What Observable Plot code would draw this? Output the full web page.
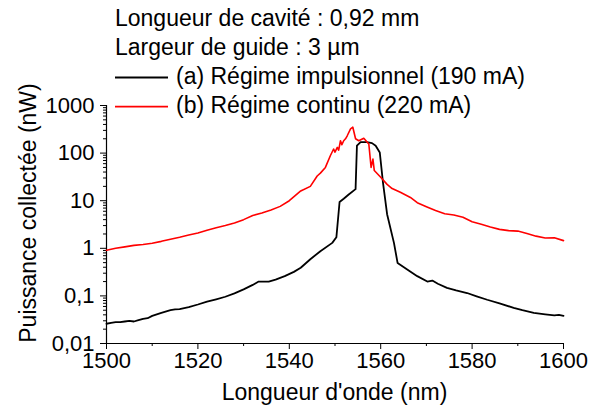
<!DOCTYPE html>
<html><head><meta charset="utf-8">
<script src="https://cdn.jsdelivr.net/npm/d3@7"></script>
<script src="https://cdn.jsdelivr.net/npm/@observablehq/plot@0.6"></script>
<style>body{margin:0;background:#fff} svg{display:block}</style>
</head><body><div id="chart"></div>
<script>
// (a) Régime impulsionnel (190 mA)
const wavelengthA = [1500,1501,1502,1503,1504,1505,1506,1507,1508,1509,1510,1512,1514,1515,1516,1518,1520,1522,1524,1526,1528,1530,1532,1533.3,1535.5,1537,1539,1541,1542.5,1544.6,1546.8,1549.4,1550.3,1551,1551.9,1553,1554.5,1554.8,1555.6,1557,1558.1,1558.9,1559.8,1560.5,1561.4,1562.9,1563.7,1565.8,1568,1570.2,1571.3,1572.5,1574.5,1576.5,1578.9,1581,1583.3,1586,1589.1,1591,1593.5,1596,1598,1599,1600];
const powerA = [0.026,0.027,0.028,0.028,0.029,0.030,0.029,0.031,0.033,0.034,0.038,0.044,0.050,0.052,0.053,0.058,0.066,0.076,0.085,0.096,0.113,0.137,0.17,0.20,0.20,0.22,0.26,0.32,0.39,0.59,0.87,1.3,1.7,9.4,11,13.5,17.5,143,170,170,162,143,103,24,5.2,1.3,0.49,0.36,0.26,0.20,0.21,0.18,0.147,0.13,0.115,0.098,0.083,0.07,0.056,0.05,0.044,0.041,0.039,0.040,0.038];
// (b) Régime continu (220 mA)
const wavelengthB = [1500,1502,1504,1506,1508,1510,1512,1514,1516,1518,1520,1522,1524,1526,1528,1530,1532,1534,1536,1538,1540,1542.5,1544.6,1546.1,1546.8,1547.9,1549,1549.7,1550,1550.5,1550.8,1551.2,1551.5,1551.9,1552.3,1552.7,1553.4,1553.9,1554.5,1555.2,1556.3,1557.4,1557.9,1558.3,1558.6,1560,1561.4,1562.5,1564.3,1566.5,1568,1570,1572,1574,1576,1578,1580,1582,1584,1586,1588,1590,1592,1594,1596,1598,1600];
const powerB = [0.91,1.0,1.07,1.15,1.2,1.28,1.4,1.55,1.7,1.9,2.1,2.4,2.7,3.0,3.4,4.0,4.9,5.5,6.4,7.6,10,16,20,33,38,50,89,122,105,132,115,182,150,182,200,234,323,350,200,182,205,155,50,75,43,31,22,18,15,11.7,9.1,7.5,6.2,5.3,5.0,4.5,3.6,3.2,2.8,2.5,2.35,2.3,2.05,1.8,1.65,1.67,1.45];

const xDomain = [1500, 1600];
const yDomain = [0.01, 1000];
const xTicks = [1500, 1520, 1540, 1560, 1580, 1600];
const xMinorTicks = [1510, 1530, 1550, 1570, 1590];
const yTicks = [0.01, 0.1, 1, 10, 100, 1000];
const yTickLabels = ["0,01", "0,1", "1", "10", "100", "1000"];
const infoLines = ["Longueur de cavité : 0,92 mm", "Largeur de guide : 3 µm"];
const legendLabels = ["(a) Régime impulsionnel (190 mA)", "(b) Régime continu (220 mA)"];
const seriesColors = ["#000000", "#ff0000"];
const xLabel = "Longueur d'onde (nm)";
const yLabel = "Puissance collectée (nW)";

const dataA = wavelengthA.map((w, i) => ({w, p: powerA[i]}));
const dataB = wavelengthB.map((w, i) => ({w, p: powerB[i]}));
const yMinor = d3.scaleLog().domain(yDomain).ticks()
  .filter(v => Math.abs(Math.log10(v) - Math.round(Math.log10(v))) > 1e-6);

const FONT = "'Liberation Sans', Arial, Helvetica, sans-serif";
const FS = 22;
const FS2 = 23;

const chart = Plot.plot({
  width: 594, height: 409,
  marginLeft: 106, marginRight: 31, marginTop: 105, marginBottom: 66,
  style: {fontFamily: FONT, fontSize: FS + "px", background: "#fff", color: "#000"},
  x: {domain: xDomain},
  y: {type: "log", domain: yDomain},
  marks: [
    Plot.axisX(xTicks, {tickSize: 6, tickPadding: 3, label: null, tickFormat: d => String(d)}),
    Plot.axisX(xMinorTicks, {tickSize: 3, label: null, tickFormat: () => ""}),
    Plot.axisY(yTicks, {tickSize: 6, tickPadding: 6, label: null, tickFormat: d => yTickLabels[yTicks.indexOf(d)]}),
    Plot.axisY(yMinor, {tickSize: 3, label: null, tickFormat: () => ""}),
    Plot.ruleX([xDomain[0]], {y1: yDomain[0], y2: yDomain[1], strokeWidth: 1.2}),
    Plot.ruleY([yDomain[0]], {x1: xDomain[0], x2: xDomain[1], strokeWidth: 1.2}),
    Plot.line(dataA, {x: "w", y: "p", stroke: seriesColors[0], strokeWidth: 1.8}),
    Plot.line(dataB, {x: "w", y: "p", stroke: seriesColors[1], strokeWidth: 1.6})
  ]
});
document.getElementById("chart").appendChild(chart);

const svg = d3.select(chart);
const g = svg.append("g").attr("font-family", FONT).attr("font-size", FS2)
  .attr("fill", "#000").attr("text-anchor", "start");
infoLines.forEach((t, i) => {
  g.append("text").attr("x", 115).attr("y", 26 + i * 29).text(t);
});
legendLabels.forEach((t, i) => {
  const y = 77.5 + i * 29.2;
  g.append("line").attr("x1", 115).attr("x2", 168).attr("y1", y).attr("y2", y)
    .attr("stroke", seriesColors[i]).attr("stroke-width", 1.8);
  g.append("text").attr("x", 176).attr("y", y + 6.5).text(t);
});
g.append("text").attr("x", 334.5).attr("y", 400).attr("text-anchor", "middle").text(xLabel);
g.append("text").attr("transform", "translate(36,213) rotate(-90)").attr("text-anchor", "middle").text(yLabel);
</script>
</body></html>
